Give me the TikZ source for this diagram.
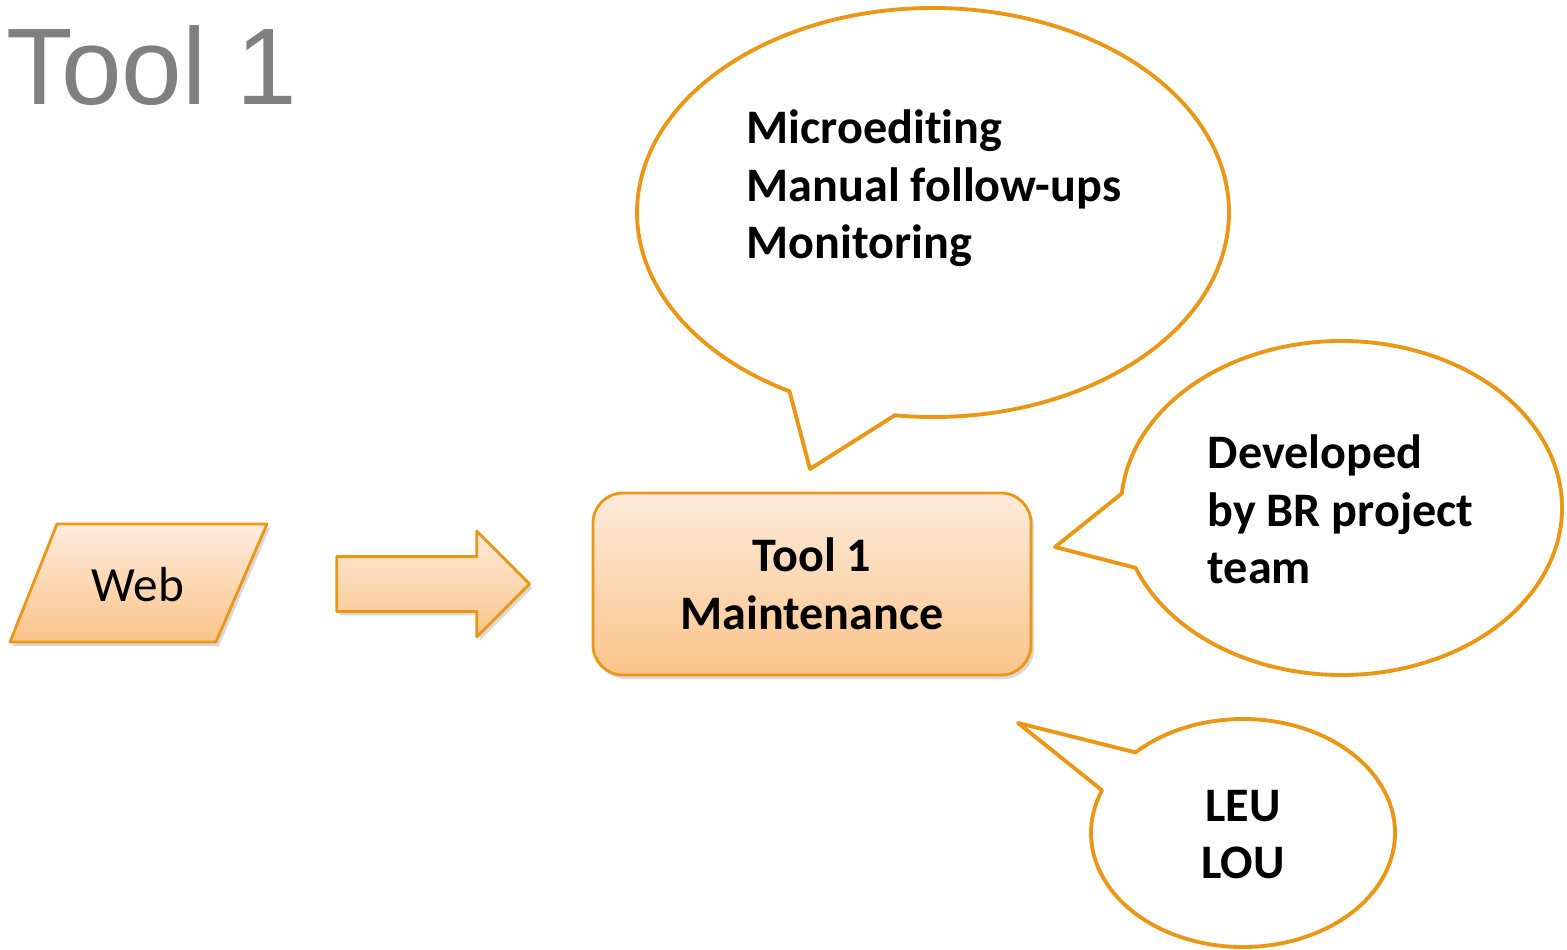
\documentclass[tikz,border=0pt]{standalone}
\usepackage{fontspec}
\setmainfont{Carlito}[Ligatures=CommonOff]
\newfontfamily\titlefont{Liberation Sans}
\usetikzlibrary{shapes.arrows,shadows}
\definecolor{edgeorange}{RGB}{236,150,22}
\definecolor{peachtop}{RGB}{253,235,219}
\definecolor{peachbot}{RGB}{251,196,138}
\begin{document}
\begin{tikzpicture}[line cap=round, line join=round, font=\bfseries\fontsize{13.7}{16.4}\selectfont]
				\tikzset{peach/.style={draw=edgeorange, line width=0.8pt, top color=peachtop, bottom color=peachbot, drop shadow={shadow xshift=0.03cm, shadow yshift=-0.04cm, opacity=0.25, fill=black!60}},
				bubble/.style={draw=edgeorange, line width=1.1pt}}
				\useasboundingbox (0,0) rectangle (15.67,9.49);
				\node[anchor=base west, inner sep=0, text=black!50, font=\titlefont\fontsize{31}{31}\selectfont] (title) at (0.06,8.44) {Tool 1};
				% web input
				\draw[peach] (0.10,3.07) -- (2.16,3.07) -- (2.67,4.25) -- (0.57,4.25) -- cycle;
				\node[font=\mdseries\fontsize{14}{14}\selectfont] (web) at (1.38,3.64) {Web};
				\node[peach, single arrow, single arrow head extend=0.255cm, inner xsep=0, inner ysep=0.26cm, minimum height=1.93cm] (flow) at (4.195,3.65) {};
				\node[peach, rounded corners=0.3cm, minimum width=4.38cm, minimum height=1.82cm, align=center] (tool) at (8.12,3.65) {Tool 1\\Maintenance};
				% callouts
				\path (9.33,7.365) coordinate (c1)
				(13.415,4.41) coordinate (c2)
				(12.43,1.16) coordinate (c3)
				(8.10,4.80) coordinate (tip1)
				(10.55,4.02) coordinate (tip2)
				(10.18,2.26) coordinate (tip3);
				\draw[bubble] (c1) ++(262.6:2.96 and 2.045) arc[start angle=262.6, end angle=601, x radius=2.96, y radius=2.045] -- (tip1) -- cycle;
				\draw[bubble] (c2) ++(201:2.205 and 1.67) arc[start angle=201, end angle=535, x radius=2.205, y radius=1.67] -- (tip2) -- cycle;
				\draw[bubble] (c3) ++(158:1.52 and 1.14) arc[start angle=158, end angle=495, x radius=1.52, y radius=1.14] -- (tip3) -- cycle;
				\node[anchor=west, align=left, inner sep=0] (tasks) at (7.46,7.605) {Microediting\\Manual follow-ups\\Monitoring};
				\node[anchor=west, align=left, inner sep=0] (team) at (12.07,4.395) {Developed\\by BR project\\team};
				\node[align=center, inner sep=0] (users) at (12.43,1.145) {LEU\\LOU};
			\end{tikzpicture}
\end{document}
